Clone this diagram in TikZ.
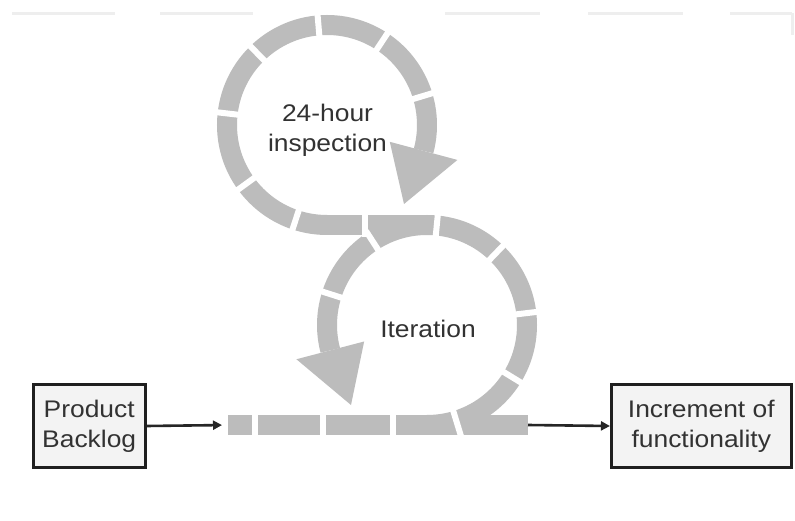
\documentclass[tikz,border=0pt]{standalone}
\usepackage{fontspec}
\setmainfont{Liberation Sans}[FakeStretch=1.1]
\usetikzlibrary{arrows.meta}

\definecolor{band}{RGB}{188,188,188}
\definecolor{ink}{RGB}{50,50,50}
\definecolor{boxfill}{RGB}{243,243,243}
\definecolor{haze}{RGB}{238,238,238}

\begin{document}
\begin{tikzpicture}[x=1pt,y=1pt,
  bandline/.style={draw=band, line width=20pt, line cap=butt},
  cut/.style={draw=white, line width=6pt},
  headfill/.style={fill=band},
  label/.style={text=ink, font=\fontsize{24}{30}\selectfont, align=center, inner sep=0pt},
  boxnode/.style={draw=black!88, line width=3pt, fill=boxfill, minimum height=83.6pt,
    text=ink, font=\fontsize{24}{30}\selectfont, align=center, inner sep=0pt},
  flow/.style={-{Triangle[length=9pt,width=9pt]}, line width=2.6pt, draw=black!85}]

\useasboundingbox (0,0) rectangle (795,520);
\fill[white] (0,0) rectangle (795,520);

% faint rule along the top edge
\foreach \xa/\xb in {12/115,160/253,445/540,588/683,730/792}
  \draw[haze, line width=3pt] (\xa,506.5) -- (\xb,506.5);
\draw[haze, line width=3pt] (792,506.5) -- (792,485);

% centres of the two loops and ends of the straight band
\coordinate (L) at (427,195);
\coordinate (U) at (327,395);
\coordinate (bandL) at (228,95);
\coordinate (bandR) at (528,95);

% straight band, lower loop, shared band and upper loop
\draw[bandline] (bandL) -- (bandR);
\draw[bandline] (427,95) arc[start angle=-90, end angle=194.7, radius=100];
\draw[bandline] (327,295) -- (427,295);
\draw[bandline] (327,295) arc[start angle=270, end angle=-15, radius=100];

% arrow heads of the two loops
\fill[headfill] ([shift={(-15:65)}]U) -- ([shift={(-15:135)}]U) -- (404,316) -- cycle;
\fill[headfill] ([shift={(194.7:65)}]L) -- ([shift={(194.7:135)}]L) -- (351,115) -- cycle;

% gaps between the band segments
\foreach \x in {255,323.3,392.5}
  \draw[cut] (\x,83) -- (\x,107);
\draw[cut] ([shift={(-73:87)}]L) -- ([shift={(-73:119)}]L);
\foreach \a in {-31.5,6.8,46.2,84.4,162.3}
  \draw[cut] ([shift={(\a:87)}]L) -- ([shift={(\a:113)}]L);
\draw[cut] ([shift={(123:87)}]L) -- ([shift={(123:112)}]L);
\draw[cut] (365,283) -- (365,307);
\foreach \a in {251.7,216,173.4,134.2,94.9,56.6,16.8}
  \draw[cut] ([shift={(\a:87)}]U) -- ([shift={(\a:113)}]U);

% labels inside the loops
\node[label] (insp) at (327.5,389.5) {24-hour\\inspection};
\node[label] (iter) at (428,191) {Iteration};

% input and output boxes
\node[boxnode, minimum width=112pt] (pb) at (89.2,94) {Product\\Backlog};
\node[boxnode, minimum width=179.7pt] (inc) at (701.3,94) {Increment of\\functionality};

% connectors
\draw[flow, shorten >=6pt] (pb.east) -- (bandL);
\draw[flow] (bandR) -- (inc.west);
\end{tikzpicture}
\end{document}
